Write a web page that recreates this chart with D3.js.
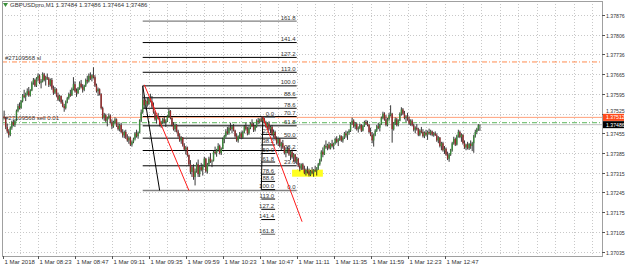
<!DOCTYPE html>
<html lang="en">
<head>
<meta charset="utf-8">
<title>GBPUSDpro,M1</title>
<style>
  body { margin: 0; background: #fff; }
  svg  { display: block; }
  text { font-family: "Liberation Sans", Arial, sans-serif; font-size: 6px; fill: #333; }
  .price { font-size: 5.2px; }
</style>
</head>
<body>
<script src="https://cdn.jsdelivr.net/npm/d3@7/dist/d3.min.js"></script>
<script>
  //----------------------------------------------------------------------------
  // M1 bars from 08:00, [open, high, low, close] in points above 1.37000
  var bars = [
    [500,525,490,515],[515,536,505,510],[510,514,470,478],[478,490,455,462],[462,470,440,450],
    [450,480,445,475],[475,500,468,495],[495,503,480,485],[485,505,478,500],[500,540,498,535],
    [535,560,530,552],[552,565,540,545],[545,574,542,570],[570,595,565,590],[590,610,580,585],
    [585,600,570,596],[596,615,590,605],[605,620,585,590],[590,612,586,608],[608,640,605,635],
    [635,652,628,645],[645,650,620,625],[625,655,620,650],[650,668,640,660],[660,665,630,635],
    [635,648,615,640],[640,672,636,665],[665,670,640,645],[645,660,625,655],[655,668,645,650],
    [650,655,620,628],[628,650,622,645],[645,652,610,615],[615,625,592,600],[600,620,595,612],
    [612,615,585,590],[590,600,570,575],[575,592,568,588],[588,590,560,565],[565,575,548,552],
    [552,560,532,545],[545,572,540,568],[568,585,562,580],[580,600,575,595],[595,610,585,590],
    [590,618,588,612],[612,655,608,630],[630,640,600,605],[605,615,585,598],[598,620,595,615],
    [615,640,610,632],[632,645,615,620],[620,630,600,610],[610,628,605,625],[625,650,620,645],
    [645,660,632,640],[640,668,636,660],[660,672,645,650],[650,665,640,662],[662,690,650,655],
    [655,662,620,625],[625,632,600,605],[605,618,588,612],[612,615,590,595],[595,598,540,545],
    [545,550,505,512],[512,528,500,520],[520,525,495,500],[500,515,480,510],[510,526,505,518],
    [518,522,490,495],[495,505,470,480],[480,500,475,495],[495,512,488,505],[505,508,478,482],
    [482,495,465,470],[470,490,462,485],[485,493,455,460],[460,470,440,448],[448,465,438,460],
    [460,468,435,440],[440,452,425,430],[430,445,418,440],[440,443,410,415],[415,430,408,425],
    [425,440,420,436],[436,460,430,455],[455,468,440,445],[445,462,436,458],[458,505,455,500],
    [500,540,495,530],[530,624,525,575],[575,590,545,555],[555,575,540,570],[570,582,550,560],
    [560,585,555,580],[580,596,565,570],[570,588,545,550],[550,565,525,530],[530,535,500,505],
    [505,520,490,515],[515,528,505,508],[508,512,480,485],[485,500,475,495],[495,510,488,505],
    [505,515,490,495],[495,505,478,500],[500,520,495,515],[515,542,510,535],[535,538,505,510],
    [510,512,480,485],[485,495,465,470],[470,490,460,485],[485,488,458,462],[462,468,440,445],
    [445,455,425,430],[430,445,418,440],[440,442,408,412],[412,420,392,398],[398,410,380,405],
    [405,408,372,378],[378,380,340,345],[345,360,310,318],[318,340,300,335],[335,345,290,300],
    [300,330,270,320],[320,352,315,345],[345,362,300,310],[310,340,300,335],[335,350,320,325],
    [325,345,305,340],[340,372,335,365],[365,368,315,320],[320,350,312,345],[345,372,340,365],
    [365,385,350,355],[355,362,335,358],[358,395,355,390],[390,408,380,385],[385,400,372,395],
    [395,420,390,410],[410,415,380,385],[385,405,378,400],[400,440,398,435],[435,450,420,445],
    [445,470,440,462],[462,478,450,455],[455,480,450,475],[475,493,465,470],[470,485,455,480],
    [480,488,462,465],[465,468,440,445],[445,455,425,430],[430,448,422,445],[445,460,438,455],
    [455,462,435,440],[440,465,436,460],[460,485,455,480],[480,493,465,470],[470,478,448,455],
    [455,480,450,475],[475,495,470,490],[490,505,478,482],[482,492,460,468],[468,485,462,480],
    [480,505,475,500],[500,510,488,495],[495,508,490,505],[505,512,495,500],[500,514,496,508],
    [508,510,490,492],[492,500,475,480],[480,495,470,490],[490,498,465,470],[470,482,455,478],
    [478,485,445,450],[450,468,440,460],[460,465,430,435],[435,445,415,420],[420,440,410,435],
    [435,438,405,410],[410,425,395,420],[420,432,400,405],[405,410,380,385],[385,400,370,395],
    [395,408,385,400],[400,405,375,380],[380,395,360,390],[390,398,365,370],[370,385,355,380],
    [380,382,350,355],[355,372,345,365],[365,368,335,340],[340,350,320,330],[330,348,325,345],
    [345,350,325,328],[328,340,310,315],[315,330,305,325],[325,338,312,320],[320,330,302,308],
    [308,325,303,320],[320,335,310,315],[315,328,301,325],[325,340,318,322],[322,335,305,330],
    [330,350,325,345],[345,365,340,360],[360,395,355,390],[390,405,370,380],[380,415,378,410],
    [410,430,400,405],[405,418,395,415],[415,425,398,402],[402,420,398,418],[418,432,405,410],
    [410,422,398,420],[420,440,415,435],[435,445,420,425],[425,438,410,432],[432,450,428,445],
    [445,448,425,430],[430,445,422,440],[440,460,435,455],[455,465,440,448],[448,462,432,458],
    [458,470,450,465],[465,495,460,490],[490,511,485,500],[500,505,475,480],[480,495,470,488],
    [488,493,465,470],[470,480,458,475],[475,490,470,485],[485,488,460,465],[465,485,462,482],
    [482,500,478,495],[495,503,485,490],[490,500,480,485],[485,488,455,460],[460,475,445,450],
    [450,460,420,430],[430,455,408,450],[450,470,445,465],[465,485,460,480],[480,493,470,475],
    [475,490,462,488],[488,515,485,510],[510,532,505,525],[525,530,500,505],[505,520,480,485],
    [485,510,480,505],[505,528,500,520],[520,555,515,525],[525,528,422,470],[470,495,465,490],
    [490,512,485,505],[505,510,480,485],[485,505,480,500],[500,530,498,525],[525,548,518,540],
    [540,545,520,525],[525,535,505,510],[510,520,495,515],[515,528,500,505],[505,515,485,490],
    [490,505,482,500],[500,505,480,484],[484,490,462,468],[468,480,455,475],[475,488,465,470],
    [470,475,445,450],[450,470,445,465],[465,478,455,460],[460,470,440,445],[445,462,438,458],
    [458,468,445,450],[450,465,432,460],[460,472,450,455],[455,468,448,462],[462,465,445,450],
    [450,460,443,455],[455,462,446,448],[448,455,425,430],[430,445,420,440],[440,442,405,410],
    [410,425,395,420],[420,425,390,395],[395,410,382,400],[400,405,375,380],[380,390,360,365],
    [365,385,354,380],[380,400,375,395],[395,425,390,420],[420,443,415,435],[435,440,410,415],
    [415,450,412,445],[445,468,440,460],[460,465,438,442],[442,455,425,450],[450,452,415,420],
    [420,430,400,405],[405,418,395,415],[415,425,398,402],[402,420,396,418],[418,430,400,410],
    [410,425,392,420],[420,450,386,445],[445,468,440,460],[460,475,452,470],[470,488,464,484],
    [484,486,464,486]
  ];

  var priceTicks = ["1.37876","1.37806","1.37736","1.37665","1.37595","1.37525","1.37455",
                    "1.37385","1.37315","1.37245","1.37175","1.37105","1.37035"];

  var timeLabels = ["1 Mar 2018","1 Mar 08:23","1 Mar 08:47","1 Mar 09:11","1 Mar 09:35",
                    "1 Mar 09:59","1 Mar 10:23","1 Mar 10:47","1 Mar 11:11","1 Mar 11:35",
                    "1 Mar 11:59","1 Mar 12:23","1 Mar 12:47"];
  var timeLabelBars = [0, 23, 47, 71, 95, 119, 143, 167, 191, 215, 239, 263, 287];

  var fibLevels1 = [0, 23.6, 38.2, 50, 61.8, 70.7, 78.6, 88.6, 100, 113, 127.2, 141.4, 161.8];
  var fibLevels2 = [0, 23.6, 38.2, 50, 61.8, 78.6, 88.6, 100, 113, 127.2, 141.4, 161.8];
  // anchors: 0% / 100% prices, bar of the 100% point, bar of the 0% point, right end bar
  var fib1 = { p0: 1.37252, p100: 1.37624, bar100: 91, bar0: 102, barEnd: 191 };
  var fib2 = { p0: 1.37512, p100: 1.37255, bar100: 168, bar0: 169, barEnd: 177 };

  var redLines = [[[92, 1.37628], [121, 1.37252]], [[169, 1.37514], [194.5, 1.37141]]];
  var zone = { bar1: 188, bar2: 208, p1: 1.37326, p2: 1.37301 };

  var ticket = "#27109568";
  var slPrice = 1.37709, lastSell = 1.37512, openPrice = 1.37493, bid = 1.37486;

  //----------------------------------------------------------------------------
  var width = 625, height = 267;
  var pL = 2, pR = 602, pT = 1, pB = 256;

  var x = d3.scaleLinear().domain([0, 287]).range([2.6, 444.5]);
  var y = d3.scaleLinear().domain([1.37035, 1.37876]).range([251.5, 15]);
  var px = function(v) { return 1.37 + v / 1e5; };

  var svg = d3.select("body").append("svg")
      .attr("width", width)
      .attr("height", height);

  var plot = svg.append("g");
  plot.append("defs").append("clipPath").attr("id", "clip")
    .append("rect").attr("x", pL).attr("y", pT).attr("width", pR - pL).attr("height", pB - pT);

  // grid
  var grid = plot.append("g").attr("stroke", "#c8c8c8").attr("stroke-dasharray", "1,2");
  priceTicks.forEach(function(t) {
    var yy = Math.round(y(+t)) + 0.5;
    grid.append("line").attr("x1", pL).attr("x2", pR).attr("y1", yy).attr("y2", yy);
  });
  d3.range(11, 390, 12).forEach(function(b) {
    var xx = Math.round(x(b)) + 0.5;
    if (xx < pR) grid.append("line").attr("x1", xx).attr("x2", xx).attr("y1", pT).attr("y2", pB);
  });

  var g = plot.append("g").attr("clip-path", "url(#clip)");

  // order lines
  g.append("line").attr("x1", pL).attr("x2", pR).attr("y1", y(slPrice)).attr("y2", y(slPrice))
    .attr("stroke", "#ff8c50").attr("stroke-width", 1).attr("stroke-dasharray", "5,2,1,2");
  g.append("line").attr("x1", pL).attr("x2", pR).attr("y1", y(lastSell)).attr("y2", y(lastSell))
    .attr("stroke", "#ffa07a").attr("stroke-width", 1);
  g.append("line").attr("x1", pL).attr("x2", pR).attr("y1", y(openPrice)).attr("y2", y(openPrice))
    .attr("stroke", "#5cb85c").attr("stroke-width", 1).attr("stroke-dasharray", "5,2,1,2");
  g.append("line").attr("x1", pL).attr("x2", pR).attr("y1", y(bid)).attr("y2", y(bid))
    .attr("stroke", "#c0c0c0").attr("stroke-width", 1);

  // yellow zone
  g.append("rect")
    .attr("x", x(zone.bar1)).attr("y", y(zone.p1))
    .attr("width", x(zone.bar2) - x(zone.bar1)).attr("height", y(zone.p2) - y(zone.p1))
    .attr("fill", "#ffff20");

  // fibonacci
  function drawFib(f, levels) {
    var fg = g.append("g");
    levels.forEach(function(l) {
      var p = f.p0 + (f.p100 - f.p0) * l / 100;
      var yy = y(p);
      var grey = (l === 0 || l === 161.8);
      fg.append("line")
        .attr("x1", x(f.bar100)).attr("x2", x(f.barEnd)).attr("y1", yy).attr("y2", yy)
        .attr("stroke", grey ? "#808080" : "#000").attr("stroke-width", grey ? 1.3 : 1);
      fg.append("text").attr("x", x(f.barEnd) - 1).attr("y", yy - 1.5)
        .attr("text-anchor", "end").text(l.toFixed(1));
    });
    fg.append("line")
      .attr("x1", x(f.bar100)).attr("y1", y(f.p100))
      .attr("x2", x(f.bar0)).attr("y2", y(f.p0))
      .attr("stroke", "#000").attr("stroke-width", 1);
  }
  drawFib(fib1, fibLevels1);
  drawFib(fib2, fibLevels2);

  // candles
  var cw = 1.4;
  var candle = g.append("g").selectAll("g").data(bars).join("g");
  candle.append("line")
    .attr("x1", function(d, i) { return x(i); })
    .attr("x2", function(d, i) { return x(i); })
    .attr("y1", function(d) { return y(px(d[1])); })
    .attr("y2", function(d) { return y(px(d[2])); })
    .attr("stroke", "#222").attr("stroke-width", 0.9);
  candle.append("rect")
    .attr("x", function(d, i) { return x(i) - cw / 2; })
    .attr("y", function(d) { return y(px(Math.max(d[0], d[3]))); })
    .attr("width", cw)
    .attr("height", function(d) { return Math.max(0.6, Math.abs(y(px(d[0])) - y(px(d[3])))); })
    .attr("fill", function(d) { return d[3] >= d[0] ? "#3a8a3a" : "#962a2a"; });

  // red trend lines
  redLines.forEach(function(l) {
    g.append("line")
      .attr("x1", x(l[0][0])).attr("y1", y(l[0][1]))
      .attr("x2", x(l[1][0])).attr("y2", y(l[1][1]))
      .attr("stroke", "#ff1a1a").attr("stroke-width", 1);
  });

  // order labels
  g.append("text").attr("x", 5).attr("y", y(slPrice) - 1.5).text(ticket + " sl");
  g.append("text").attr("x", 5).attr("y", y(lastSell) + 3).attr("fill", "#555").text(ticket + " sell 0.01");

  // frame
  plot.append("rect").attr("x", pL + 0.5).attr("y", pT + 0.5)
    .attr("width", pR - pL).attr("height", pB - pT)
    .attr("fill", "none").attr("stroke", "#a0a0a0");

  // price axis; a tick label next to the sell tag is nudged up above it
  priceTicks.forEach(function(t) {
    var yy = Math.round(y(+t)) + 0.5;
    var ty = yy + 2;
    if (Math.abs(y(+t) - y(lastSell)) < 5) ty = Math.min(ty, y(lastSell) - 4);
    svg.append("line").attr("x1", pR).attr("x2", pR + 3).attr("y1", yy).attr("y2", yy).attr("stroke", "#555");
    svg.append("text").attr("class", "price").attr("x", pR + 4).attr("y", ty).text(t);
  });
  [[lastSell, "#ff4a1a"], [bid, "#000"]].forEach(function(d) {
    var yy = y(d[0]);
    svg.append("rect").attr("x", pR + 1).attr("y", yy - 3.5).attr("width", width - pR - 2).attr("height", 7).attr("fill", d[1]);
    svg.append("text").attr("class", "price").attr("x", pR + 4).attr("y", yy + 2).style("fill", "#fff")
      .text(d[0].toFixed(5));
  });

  // time axis
  timeLabels.forEach(function(t, i) {
    var xx = Math.round(x(timeLabelBars[i])) + 0.5;
    svg.append("line").attr("x1", xx).attr("x2", xx).attr("y1", pB).attr("y2", pB + 3).attr("stroke", "#555");
    svg.append("text").attr("x", xx + 1).attr("y", 264).text(t);
  });

  // title
  svg.append("path").attr("d", "M3,3 L8,3 L5.5,7 Z").attr("fill", "#3a8f3a");
  svg.append("text").attr("x", 10).attr("y", 7).text("GBPUSDpro,M1  1.37484 1.37486 1.37464 1.37486");
  //----------------------------------------------------------------------------
</script>
</body>
</html>
